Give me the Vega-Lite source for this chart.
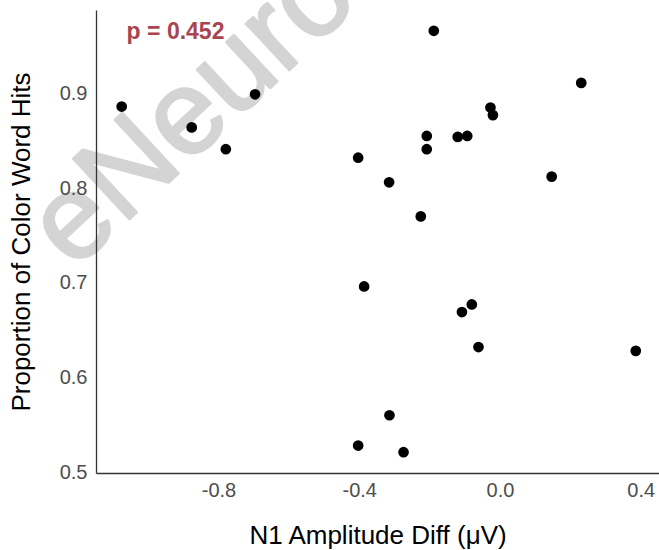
{
  "$schema": "https://vega.github.io/schema/vega-lite/v6.json",
  "autosize": "none",
  "padding": {"left": 96, "top": 10, "right": 0, "bottom": 77},
  "width": 563,
  "height": 463,
  "background": "white",
  "config": {"view": {"stroke": null}, "font": "Liberation Sans"},
  "datasets": {
    "pts": [
      {"n1_diff": -1.075, "hits": 0.886},
      {"n1_diff": -0.876, "hits": 0.864},
      {"n1_diff": -0.779, "hits": 0.841},
      {"n1_diff": -0.696, "hits": 0.899},
      {"n1_diff": -0.188, "hits": 0.966},
      {"n1_diff": 0.231, "hits": 0.911},
      {"n1_diff": -0.027, "hits": 0.885},
      {"n1_diff": -0.020, "hits": 0.877},
      {"n1_diff": -0.208, "hits": 0.855},
      {"n1_diff": -0.120, "hits": 0.854},
      {"n1_diff": -0.093, "hits": 0.855},
      {"n1_diff": -0.208, "hits": 0.841},
      {"n1_diff": -0.403, "hits": 0.832},
      {"n1_diff": -0.315, "hits": 0.806},
      {"n1_diff": 0.147, "hits": 0.812},
      {"n1_diff": -0.225, "hits": 0.770},
      {"n1_diff": -0.386, "hits": 0.696},
      {"n1_diff": -0.080, "hits": 0.677},
      {"n1_diff": -0.108, "hits": 0.669},
      {"n1_diff": -0.061, "hits": 0.632},
      {"n1_diff": 0.386, "hits": 0.628},
      {"n1_diff": -0.314, "hits": 0.560},
      {"n1_diff": -0.403, "hits": 0.528},
      {"n1_diff": -0.274, "hits": 0.521}
    ],
    "mark": [{"x": -1.212, "y": 0.712, "label": "eNeuro"}],
    "ptext": [{"x": -0.922, "y": 0.957, "label": "p = 0.452"}]
  },
  "layer": [
    {
      "data": {"name": "mark"},
      "mark": {"type": "text", "align": "left", "baseline": "alphabetic", "angle": 317, "fontSize": 120, "fontWeight": "normal", "color": "#d4d4d4", "stroke": "#d4d4d4", "strokeWidth": 2.5, "strokeJoin": "round", "strokeCap": "round", "clip": false, "font": "Liberation Sans"},
      "encoding": {
        "x": {"field": "x", "type": "quantitative"},
        "y": {"field": "y", "type": "quantitative"},
        "text": {"field": "label"}
      }
    },
    {
      "data": {"name": "pts"},
      "mark": {"type": "circle", "size": 115, "color": "black", "opacity": 1},
      "encoding": {
        "x": {
          "field": "n1_diff", "type": "quantitative",
          "scale": {"domain": [-1.148, 0.452], "nice": false, "zero": false},
          "axis": {
            "title": "N1 Amplitude Diff (μV)", "values": [-0.8, -0.4, 0, 0.4],
            "labelExpr": "replace(format(datum.value, '.1f'), '\u2212', '-')",
            "grid": false, "ticks": false, "tickSize": 0, "domainColor": "#333333", "domainWidth": 1.3,
            "labelFontSize": 20, "labelColor": "#4d4d4d", "labelPadding": 7, "labelFont": "Liberation Sans",
            "titleFontSize": 26, "titleFontWeight": "normal", "titleColor": "black", "titlePadding": 22, "titleFont": "Liberation Sans",
            "zindex": 1
          }
        },
        "y": {
          "field": "hits", "type": "quantitative",
          "scale": {"domain": [0.499, 0.988], "nice": false, "zero": false},
          "axis": {
            "title": "Proportion of Color Word Hits", "values": [0.5, 0.6, 0.7, 0.8, 0.9], "format": ".1f",
            "grid": false, "ticks": false, "tickSize": 0, "domainColor": "#333333", "domainWidth": 1.3,
            "labelFontSize": 20, "labelColor": "#4d4d4d", "labelPadding": 9, "labelFont": "Liberation Sans",
            "titleFontSize": 26, "titleFontWeight": "normal", "titleColor": "black", "titlePadding": 25, "titleFont": "Liberation Sans",
            "zindex": 1
          }
        }
      }
    },
    {
      "data": {"name": "ptext"},
      "mark": {"type": "text", "align": "center", "baseline": "alphabetic", "fontSize": 23, "fontWeight": "bold", "color": "#a84550", "font": "Liberation Sans"},
      "encoding": {
        "x": {"field": "x", "type": "quantitative"},
        "y": {"field": "y", "type": "quantitative"},
        "text": {"field": "label"}
      }
    }
  ]
}
